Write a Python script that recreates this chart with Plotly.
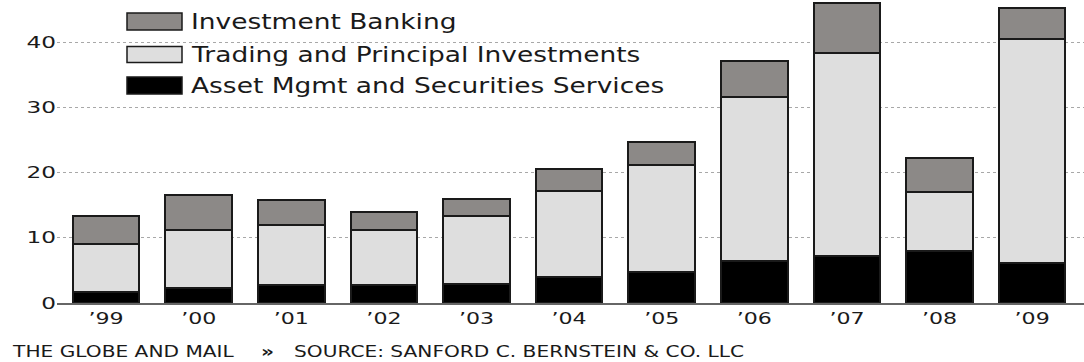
import plotly.graph_objects as go

# Revenue by segment, in billions of dollars
years = ["’99", "’00", "’01", "’02", "’03", "’04", "’05", "’06", "’07", "’08", "’09"]
asset_mgmt = [1.7, 2.3, 2.7, 2.7, 2.9, 4.0, 4.8, 6.5, 7.2, 8.0, 6.1]
trading = [7.3, 8.9, 9.3, 8.5, 10.4, 13.15, 16.4, 25.1, 31.2, 9.0, 34.3]
inv_banking = [4.3, 5.3, 3.8, 2.7, 2.7, 3.35, 3.55, 5.55, 7.6, 5.25, 4.8]

series_names = ["Investment Banking", "Trading and Principal Investments",
                "Asset Mgmt and Securities Services"]
series_colors = ["#8c8987", "#dedede", "#000000"]
y_ticks = [0, 10, 20, 30, 40]

FONT = "DejaVu Sans"
INK = "#1a1a1a"
W, H = 1084, 362
L, R, T, B = 57, 0, 0, 59
plot_w, plot_h = W - L - R, H - T - B


def px_x(x):
    return (x - L) / plot_w


def px_y(y):
    return (H - B - y) / plot_h


fig = go.Figure()
stack = [
    (asset_mgmt, series_names[2], series_colors[2]),
    (trading, series_names[1], series_colors[1]),
    (inv_banking, series_names[0], series_colors[0]),
]
for values, name, color in stack:
    fig.add_trace(go.Bar(
        x=list(range(len(years))), y=values, name=name,
        marker=dict(color=color, line=dict(color=INK, width=2)),
        showlegend=False,
    ))

shapes = []
annotations = []

# white panel behind the key
shapes.append(dict(type="rect", xref="paper", yref="paper",
                   x0=px_x(97), x1=px_x(690), y0=px_y(100), y1=px_y(0),
                   fillcolor="white", line=dict(width=0), layer="between"))

key_rows = [(13, 30), (46.5, 62.5), (77, 94)]
for (top, bot), name, color in zip(key_rows, series_names, series_colors):
    shapes.append(dict(type="rect", xref="paper", yref="paper",
                       x0=px_x(127), x1=px_x(182), y0=px_y(bot), y1=px_y(top),
                       fillcolor=color, line=dict(color=INK, width=1.5),
                       layer="above"))
    annotations.append(dict(xref="paper", yref="paper", x=px_x(189),
                            y=px_y((top + bot) / 2), text=name, showarrow=False,
                            xanchor="left", yanchor="middle", align="left",
                            font=dict(family=FONT, size=21, color=INK)))

# credit line
footer = [(10, "THE GLOBE AND MAIL", False),
          (259, "»", True),
          (292, "SOURCE: SANFORD C. BERNSTEIN &amp; CO. LLC", False)]
for x, text, bold in footer:
    annotations.append(dict(
        xref="paper", yref="paper", x=px_x(x), y=px_y(351),
        text=f"<b>{text}</b>" if bold else text,
        showarrow=False, xanchor="left", yanchor="middle", align="left",
        font=dict(family=FONT, size=16, color=INK)))

fig.update_layout(
    width=W, height=H,
    margin=dict(l=L, r=R, t=T, b=B, pad=0),
    barmode="stack", bargap=0.28,
    plot_bgcolor="white", paper_bgcolor="white",
    shapes=shapes, annotations=annotations,
    xaxis=dict(
        tickmode="array", tickvals=list(range(len(years))), ticktext=years,
        range=[-0.53, 10.56], showgrid=False, showline=True,
        linecolor="#666666", linewidth=2, ticks="",
        tickfont=dict(family=FONT, size=16, color=INK),
        zeroline=False,
    ),
    yaxis=dict(
        range=[0, 46.45], tickvals=y_ticks, showgrid=True,
        gridcolor="#a8a8a8", griddash="dot", gridwidth=1,
        zeroline=False, showline=False, ticks="",
        tickfont=dict(family=FONT, size=16, color=INK),
    ),
)

# widen the lettering horizontally (wide display face), keeping each
# label pinned at its left edge, centre or right edge
widen_js = """
var gd = document.getElementById('{plot_id}');
function widen(sel, k, pin) {
  gd.querySelectorAll(sel).forEach(function (t) {
    var tr = t.getAttribute('transform') || '';
    var a = t.getBoundingClientRect();
    t.setAttribute('transform', tr + ' scale(' + k + ',1)');
    var b = t.getBoundingClientRect();
    var dx = 0;
    if (pin === 'left') dx = a.left - b.left;
    else if (pin === 'right') dx = a.right - b.right;
    else dx = (a.left + a.right) / 2 - (b.left + b.right) / 2;
    t.setAttribute('transform', tr + ' translate(' + dx + ',0) scale(' + k + ',1)');
  });
}
widen('text.annotation-text', 1.26, 'left');
widen('g.xtick text', 1.38, 'center');
widen('g.ytick text', 1.45, 'right');
"""

fig.write_html("out.html", post_script=widen_js)
